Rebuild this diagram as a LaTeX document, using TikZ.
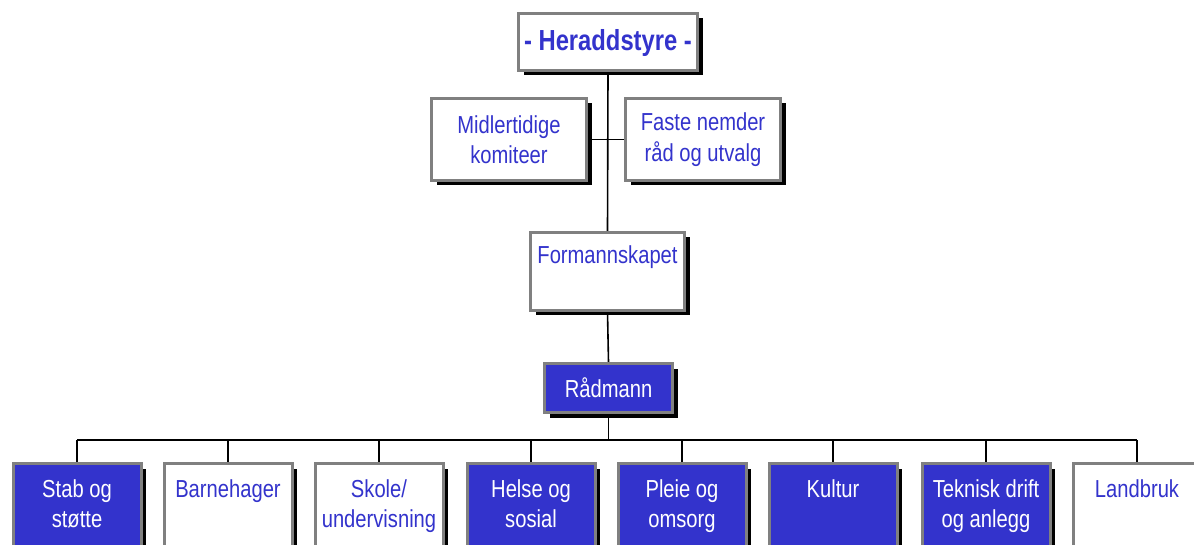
\documentclass[tikz,border=0pt]{standalone}
\usepackage{fontspec}
\setmainfont[FakeStretch=0.82]{Liberation Sans}
\usetikzlibrary{shadows,backgrounds}
\definecolor{orgblue}{RGB}{51,51,204}
\definecolor{orgframe}{RGB}{128,128,128}
\tikzset{
  orgbox/.style={draw=orgframe, line width=3pt, fill=white, inner sep=0pt,
    drop shadow={shadow xshift=5pt, shadow yshift=-5pt, fill=black, opacity=1}},
  whitebox/.style={orgbox, fill=white},
  bluebox/.style={orgbox, fill=orgblue},
  unitbox/.style={minimum width=128pt, minimum height=110pt},
  bluetext/.style={text=orgblue, font=\fontsize{24.6}{30.5}\selectfont, align=center, inner sep=0pt},
  whitetext/.style={bluetext, text=white},
  link/.style={draw=black, line width=1.6pt}
}
\begin{document}
\begin{tikzpicture}[x=1pt, y=-1pt]
\useasboundingbox (0,0) rectangle (1194,545);
\clip (0,0) rectangle (1194,545);

% council and committees
\node[whitebox, minimum width=179pt, minimum height=57pt] (hs) at (608,42) {};
\node[bluetext, font=\fontsize{29}{34}\selectfont\bfseries] (hst) at ([yshift=-1pt]hs.center) {- Heraddstyre -};

\node[whitebox, minimum width=155pt, minimum height=82pt] (mk) at (509,139.5) {};
\node[bluetext] (mkt) at (mk.center) {Midlertidige\\komiteer};
\node[whitebox, minimum width=155pt, minimum height=82pt] (fn) at (703,139.5) {};
\node[bluetext] (fnt) at (fn.center) {Faste nemder\\råd og utvalg};

\node[whitebox, minimum width=154pt, minimum height=78pt] (fm) at (607.5,271.5) {};
\node[bluetext, anchor=north] (fmt) at ([yshift=-14pt]fm.north) {Formannskapet};

\node[bluebox, minimum width=128pt, minimum height=49pt] (rm) at (608.5,388) {};
\node[whitetext] (rmt) at (rm.center) {Rådmann};

% service units
\foreach \n/\x/\style in {
  b1/77/bluebox, b2/228/whitebox, b3/379/whitebox, b4/531/bluebox,
  b5/682/bluebox, b6/833/bluebox, b7/986/bluebox, b8/1137/whitebox}{
  \node[\style, unitbox] (\n) at (\x,518.5) {};
}
\foreach \n/\txt in {b1/{Stab og\\støtte}, b4/{Helse og\\sosial}, b5/{Pleie og\\omsorg},
  b6/{Kultur}, b7/{Teknisk drift\\og anlegg}}{
  \node[whitetext, anchor=north] (\n t) at ([yshift=-17pt]\n.north) {\txt};
}
\foreach \n/\txt in {b2/{Barnehager}, b3/{Skole/\\undervisning}, b8/{Landbruk}}{
  \node[bluetext, anchor=north] (\n t) at ([yshift=-17pt]\n.north) {\txt};
}

% connectors
\coordinate (busL) at (77,440);
\coordinate (busR) at (1137,440);
\begin{scope}[on background layer]
  \draw[link] (hs.south) -- (fm.north);
  \draw[link] (mk.east) -- (fn.west);
  \draw[link] (fm.south) -- (rm.north);
  \draw[link] (rm.south) -- (rm.south |- busL);
  \draw[link] (busL) -- (busR);
  \foreach \n in {b1,b2,b3,b4,b5,b6,b7,b8}{
    \draw[link] (\n.north) -- (\n.north |- busL);
  }
\end{scope}
\end{tikzpicture}
\end{document}
